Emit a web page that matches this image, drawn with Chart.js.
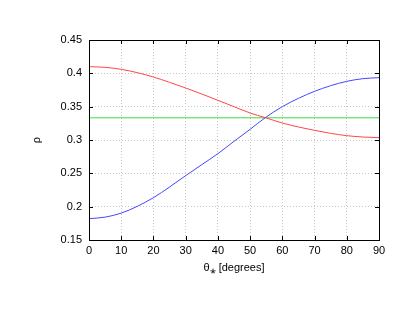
<!DOCTYPE html>
<html>
<head>
<meta charset="utf-8">
<script src="https://cdn.jsdelivr.net/npm/chart.js@4"></script>
<style>
  html, body { margin: 0; padding: 0; background: #fff; }
  #wrap { width: 411px; height: 318px; }
</style>
</head>
<body>
<div id="wrap"><canvas id="rhoChart" width="411" height="318"></canvas></div>
<script>
// angles (degrees)
const angles = [0, 5, 10, 15, 20, 25, 30, 35, 40, 45, 50, 54.7, 60, 65, 70, 75, 80, 85, 90];
const redValues = [0.410, 0.409, 0.406, 0.401, 0.3945, 0.3865, 0.378, 0.369, 0.3595, 0.350, 0.3405, 0.3335, 0.3255, 0.3195, 0.3145, 0.310, 0.3065, 0.3045, 0.3035];
const blueValues = [0.182, 0.1843, 0.1903, 0.2005, 0.2135, 0.2295, 0.2465, 0.263, 0.2795, 0.298, 0.316, 0.3335, 0.350, 0.3625, 0.373, 0.3815, 0.388, 0.392, 0.3935];
const greenAngles = [0, 90];
const greenValues = [0.3333, 0.3333];

const xTicks = [0, 10, 20, 30, 40, 50, 60, 70, 80, 90];
const yTicks = [0.15, 0.2, 0.25, 0.3, 0.35, 0.4, 0.45];

function toPoints(xs, ys) {
    return xs.map((x, i) => ({ x: x, y: ys[i] }));
}

const fontSpec = { family: "'Liberation Sans', Arial, sans-serif", size: 11 };

// frame + inward ticks on all four sides, gnuplot style
const framePlugin = {
    id: "frame",
    afterDraw(chart) {
        const c = chart.ctx;
        const a = chart.chartArea;
        const xs = chart.scales.x, ys = chart.scales.y;
        c.save();
        c.strokeStyle = "#000";
        c.lineWidth = 1;
        c.beginPath();
        xTicks.forEach(v => {
            const px = Math.round(xs.getPixelForValue(v)) + 0.5;
            c.moveTo(px, a.bottom); c.lineTo(px, a.bottom - 4);
            c.moveTo(px, a.top); c.lineTo(px, a.top + 4);
        });
        yTicks.forEach(v => {
            const py = Math.round(ys.getPixelForValue(v)) + 0.5;
            c.moveTo(a.left, py); c.lineTo(a.left + 4, py);
            c.moveTo(a.right, py); c.lineTo(a.right - 4, py);
        });
        c.stroke();
        c.strokeRect(Math.round(a.left) + 0.5, Math.round(a.top) + 0.5,
            Math.round(a.right - a.left), Math.round(a.bottom - a.top));
        c.restore();
    }
};

const ctx = document.getElementById("rhoChart").getContext("2d");
new Chart(ctx, {
    type: "scatter",
    data: {
        datasets: [
            {
                data: toPoints(angles, redValues),
                showLine: true,
                borderColor: "rgb(255, 70, 70)",
                borderWidth: 1,
                pointRadius: 0,
                cubicInterpolationMode: "monotone"
            },
            {
                data: toPoints(angles, blueValues),
                showLine: true,
                borderColor: "rgb(70, 70, 255)",
                borderWidth: 1,
                pointRadius: 0,
                cubicInterpolationMode: "monotone"
            },
            {
                data: toPoints(greenAngles, greenValues),
                showLine: true,
                borderColor: "rgb(60, 220, 60)",
                borderWidth: 1,
                pointRadius: 0
            }
        ]
    },
    options: {
        responsive: false,
        animation: false,
        events: [],
        layout: { padding: { left: 0, top: 40, right: 32, bottom: 0 } },
        plugins: { legend: { display: false }, tooltip: { enabled: false } },
        scales: {
            x: {
                type: "linear",
                min: 0,
                max: 90,
                afterFit(scale) { scale.height = 78; },
                afterBuildTicks(scale) { scale.ticks = xTicks.map(v => ({ value: v })); },
                grid: { color: "#c8c8c8", lineWidth: 1, drawTicks: false },
                border: { display: false, dash: [1, 2] },
                ticks: { color: "#000", font: fontSpec, padding: 4, maxRotation: 0 },
                title: {
                    display: true,
                    text: "θ⁎ [degrees]",
                    color: "#000",
                    font: fontSpec,
                    padding: { top: 0, bottom: 43 }
                }
            },
            y: {
                type: "linear",
                min: 0.15,
                max: 0.45,
                afterFit(scale) { scale.width = 89; },
                afterBuildTicks(scale) { scale.ticks = yTicks.map(v => ({ value: v })); },
                grid: { color: "#c8c8c8", lineWidth: 1, drawTicks: false },
                border: { display: false, dash: [1, 2] },
                ticks: {
                    color: "#000",
                    font: fontSpec,
                    padding: 7,
                    callback: v => String(Math.round(v * 100) / 100)
                },
                title: {
                    display: true,
                    text: "ρ",
                    color: "#000",
                    font: fontSpec,
                    padding: { top: 30, bottom: 0 }
                }
            }
        }
    },
    plugins: [framePlugin]
});
</script>
</body>
</html>
